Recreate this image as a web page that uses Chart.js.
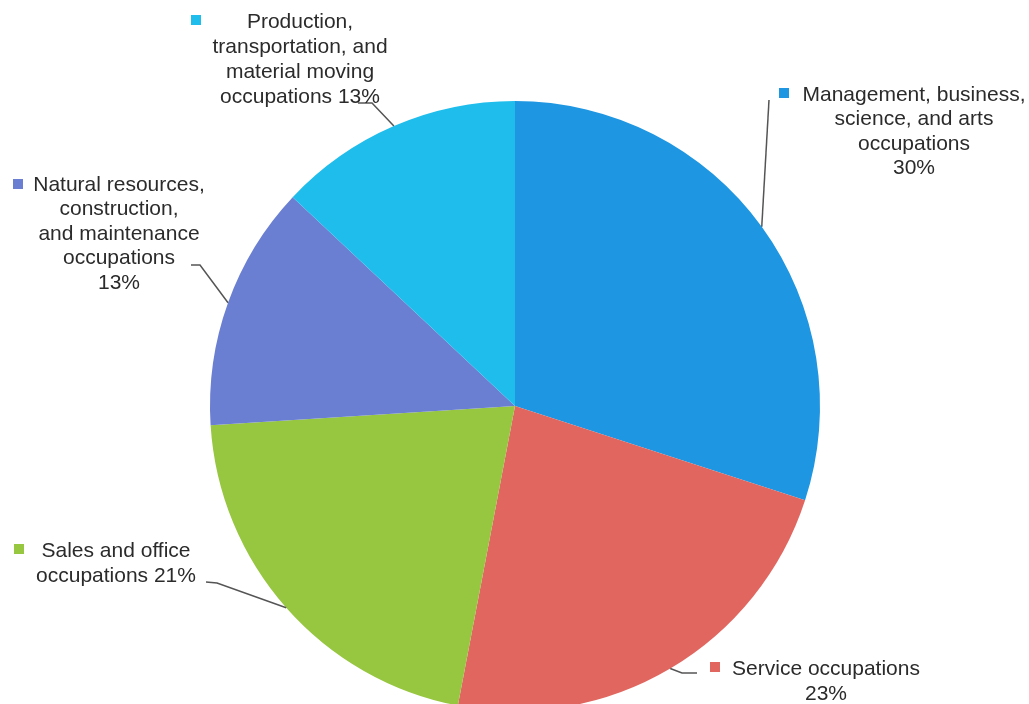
<!DOCTYPE html>
<html>
<head>
<meta charset="utf-8">
<script src="https://cdn.jsdelivr.net/npm/chart.js@4"></script>
<style>
  html, body { margin: 0; padding: 0; background: #fff; overflow: hidden; }
  #wrap { position: relative; width: 1029px; height: 720px; }
</style>
</head>
<body>
<div id="wrap"><canvas id="occupation-chart"></canvas></div>
<script>
// Occupation shares, clockwise from 12 o'clock
const categories = [
    'Management, business, science, and arts occupations',
    'Service occupations',
    'Sales and office occupations',
    'Natural resources, construction, and maintenance occupations',
    'Production, transportation, and material moving occupations'
];
const shares = [30, 23, 21, 13, 13];
const sliceColors = ['#1e96e2', '#e0665f', '#97c640', '#6a7fd2', '#1ebdec'];

// text of the callouts, line by line
const labelLines = [
    ['Management, business,', 'science, and arts', 'occupations', '30%'],
    ['Service occupations', '23%'],
    ['Sales and office', 'occupations 21%'],
    ['Natural resources,', 'construction,', 'and maintenance', 'occupations', '13%'],
    ['Production,', 'transportation, and', 'material moving', 'occupations 13%']
];

// where each callout sits: text centre, first line y, marker centre, leader elbow points
const calloutLayout = [
    { cx: 914, y: 95, gap: 24.5, marker: [784, 93], elbow: [[769, 100]] },
    { cx: 826, y: 669, gap: 25, marker: [715, 667], elbow: [[682, 673], [697, 673]] },
    { cx: 116, y: 551, gap: 25.5, marker: [19, 549], elbow: [[217, 583], [206, 582]] },
    { cx: 119, y: 185, gap: 24.5, marker: [18, 184], elbow: [[200, 265], [191, 265]] },
    { cx: 300, y: 22, gap: 25, marker: [196, 20], elbow: [[372, 103], [358, 103]] }
];

const calloutPlugin = {
    id: 'callouts',
    afterDraw(chart) {
        const ctx = chart.ctx;
        const arcs = chart.getDatasetMeta(0).data;
        ctx.save();
        arcs.forEach((arc, i) => {
            const lay = calloutLayout[i];
            const p = arc.getProps(['x', 'y', 'startAngle', 'endAngle', 'outerRadius'], true);
            const mid = (p.startAngle + p.endAngle) / 2;
            const ex = p.x + p.outerRadius * Math.cos(mid);
            const ey = p.y + p.outerRadius * Math.sin(mid);

            // leader line
            ctx.strokeStyle = '#555';
            ctx.lineWidth = 1.5;
            ctx.beginPath();
            ctx.moveTo(ex, ey);
            lay.elbow.forEach(pt => ctx.lineTo(pt[0], pt[1]));
            ctx.stroke();

            // colour marker
            ctx.fillStyle = sliceColors[i];
            ctx.fillRect(lay.marker[0] - 5, lay.marker[1] - 5, 10, 10);

            // text
            ctx.fillStyle = '#2b2b2b';
            ctx.font = '21px "Liberation Sans", Arial, sans-serif';
            ctx.textAlign = 'center';
            ctx.textBaseline = 'middle';
            labelLines[i].forEach((line, k) => {
                ctx.fillText(line, lay.cx, lay.y + k * lay.gap);
            });
        });
        ctx.restore();
    }
};

const ctx = document.getElementById('occupation-chart').getContext('2d');
new Chart(ctx, {
    type: 'pie',
    data: {
        labels: categories,
        datasets: [{
            data: shares,
            backgroundColor: sliceColors,
            borderWidth: 0
        }]
    },
    options: {
        responsive: true,
        maintainAspectRatio: false,
        animation: false,
        layout: {
            padding: { top: 101, bottom: 9, left: 1, right: 0 }
        },
        plugins: {
            legend: { display: false },
            tooltip: { enabled: false }
        }
    },
    plugins: [calloutPlugin]
});
</script>
</body>
</html>
